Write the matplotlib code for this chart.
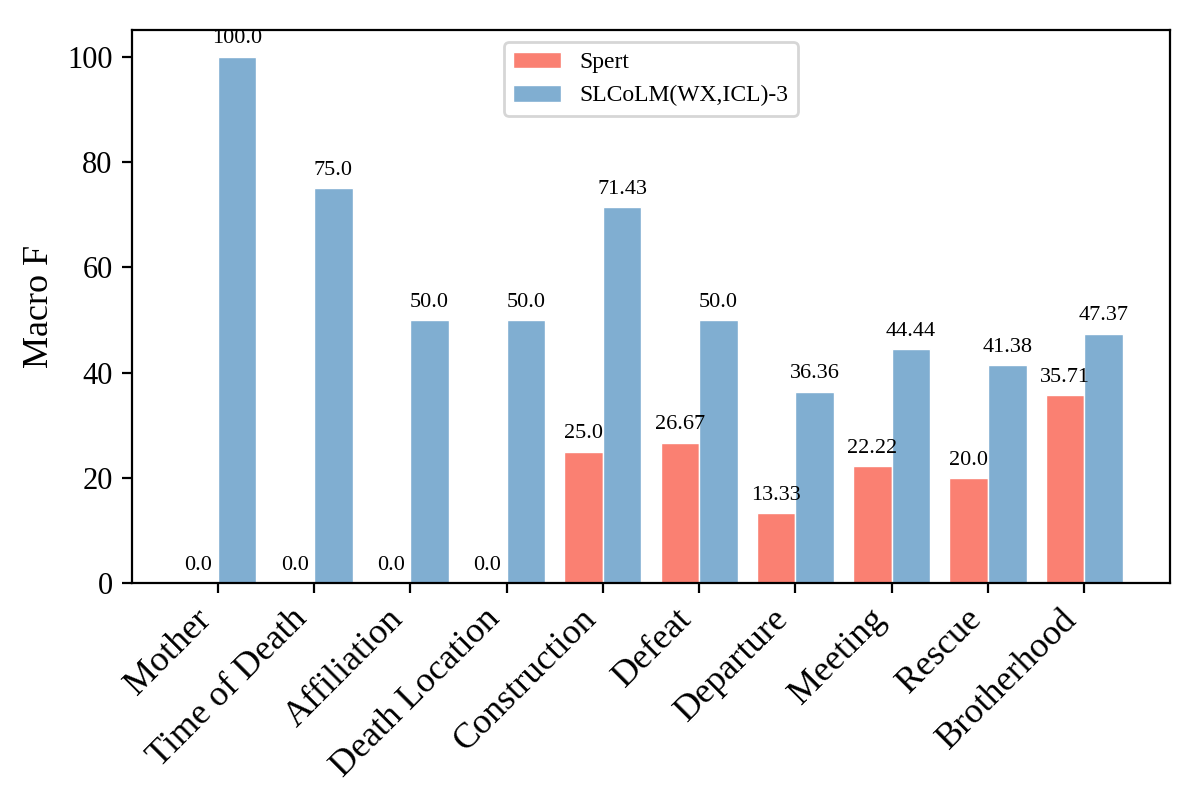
import matplotlib
matplotlib.use("Agg")
import matplotlib.pyplot as plt
import numpy as np

plt.rcParams["font.family"] = ["Liberation Serif", "DejaVu Serif"]

categories = ["Mother", "Time of Death", "Affiliation", "Death Location", "Construction",
              "Defeat", "Departure", "Meeting", "Rescue", "Brotherhood"]
spert = [0.0, 0.0, 0.0, 0.0, 25.0, 26.67, 13.33, 22.22, 20.0, 35.71]
slcolm = [100.0, 75.0, 50.0, 50.0, 71.43, 50.0, 36.36, 44.44, 41.38, 47.37]

x = np.arange(len(categories))
w = 0.4

fig, ax = plt.subplots(figsize=(6, 4), dpi=200)
b1 = ax.bar(x - w / 2, spert, w, color="#FA8072", edgecolor="white", linewidth=0.5, label="Spert")
b2 = ax.bar(x + w / 2, slcolm, w, color="#80AED1", edgecolor="white", linewidth=0.5, label="SLCoLM(WX,ICL)-3")

for bars in (b1, b2):
    for b in bars:
        h = b.get_height()
        ax.annotate(f"{h}", (b.get_x() + b.get_width() / 2, h), xytext=(0, 3),
                    textcoords="offset points", ha="center", va="bottom", fontsize=8)

ax.set_ylabel("Macro F", fontsize=13)
ax.set_xticks(x)
ax.set_xticklabels(categories, rotation=45, ha="right", fontsize=13)
ax.tick_params(axis="y", labelsize=11)
ax.legend(loc="upper center", fontsize=8.5)
ax.set_ylim(0, 105)

fig.subplots_adjust(left=0.11, right=0.975, top=0.962, bottom=0.271)
fig.savefig("out.png")
